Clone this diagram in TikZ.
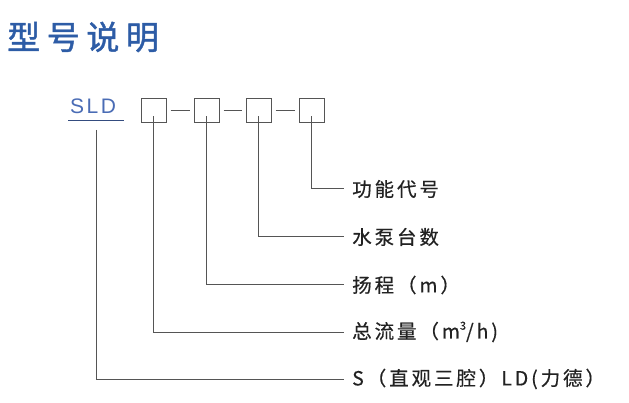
\documentclass[tikz,border=0pt]{standalone}
\usepackage{fontspec}
\setsansfont{Liberation Sans}
\newfontfamily\titlefont[LetterSpace=20,FakeBold=1.3]{Noto Sans CJK SC}
\newfontfamily\labfont[LetterSpace=15,FakeBold=0.5]{Noto Sans CJK SC}
\newfontfamily\sldfont[LetterSpace=12]{Liberation Sans}
\definecolor{titleblue}{HTML}{2D5CA6}
\definecolor{sldblue}{HTML}{4A6CB5}
\definecolor{linegray}{HTML}{555555}
\definecolor{textdark}{HTML}{222222}
\tikzset{
  codebox/.style={draw=linegray, line width=1pt, minimum width=25pt, minimum height=24pt, inner sep=0pt},
  lead/.style={draw=linegray, line width=1pt},
  lab/.style={anchor=west, inner sep=0pt, text=textdark, font=\labfont\fontsize{19.5pt}{22pt}\selectfont},
}
\begin{document}
\begin{tikzpicture}[x=1pt,y=-1pt]
\useasboundingbox (0,0) rectangle (629,403);
\node[anchor=west, inner sep=0pt, text=titleblue, font=\titlefont\fontsize{33pt}{36pt}\selectfont] (title) at (7,37) {型号说明};
\node[anchor=base west, inner sep=0pt, text=sldblue, font=\sldfont\fontsize{21pt}{24pt}\selectfont] (sld) at (70,114) {SLD};
\coordinate (ul1) at (68,121);
\coordinate (ul2) at (124,121);
\draw[line width=1pt, draw=sldblue!70!black] (ul1) -- (ul2);
\coordinate (sldfoot) at (96.5,130);
\node[codebox] (b1) at (153.5,111) {};
\node[codebox] (b2) at (206.5,111) {};
\node[codebox] (b3) at (258.5,111) {};
\node[codebox] (b4) at (311.5,111) {};
\draw[lead] ([xshift=4pt]b1.east) -- ([xshift=-4pt]b2.west);
\draw[lead] ([xshift=4pt]b2.east) -- ([xshift=-4pt]b3.west);
\draw[lead] ([xshift=4pt]b3.east) -- ([xshift=-4pt]b4.west);
\node[lab] (l4) at (352,189) {功能代号};
\node[lab] (l3) at (352,237) {水泵台数};
\node[lab] (l2) at (352,285) {扬程（m）};
\node[lab] (l1) at (352,332) {总流量（m\raisebox{0.45em}{\fontsize{11pt}{12pt}\selectfont 3}/h)};
\node[lab] (l0) at (352,379) {S（直观三腔）LD(力德）};
\draw[lead] ([yshift=7pt]b4.south) |- ([xshift=-8pt]l4.west);
\draw[lead] ([yshift=7pt]b3.south) |- ([xshift=-8pt]l3.west);
\draw[lead] ([yshift=7pt]b2.south) |- ([xshift=-8pt]l2.west);
\draw[lead] ([yshift=7pt]b1.south) |- ([xshift=-8pt]l1.west);
\draw[lead] (sldfoot) |- ([xshift=-8pt]l0.west);
\end{tikzpicture}
\end{document}
